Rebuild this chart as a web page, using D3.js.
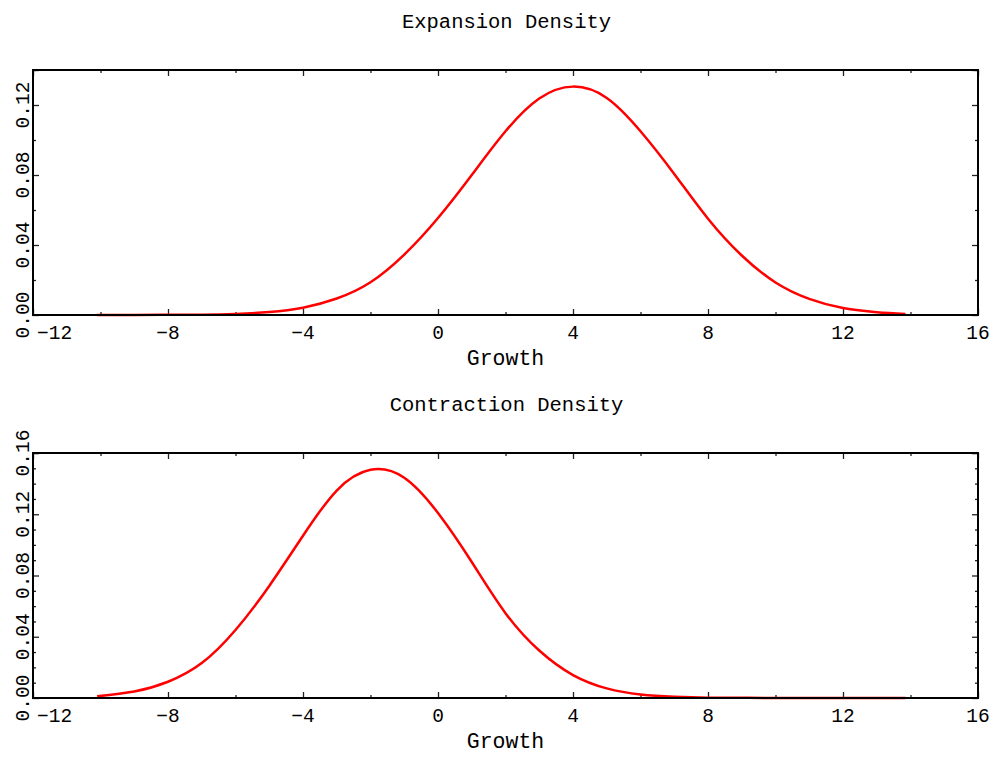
<!DOCTYPE html>
<html>
<head>
<meta charset="utf-8">
<script src="https://cdn.jsdelivr.net/npm/d3@7"></script>
<style>
  body { margin: 0; background: #fff; }
  text { font-family: "Liberation Mono", "DejaVu Sans Mono", monospace; fill: #000; }
</style>
</head>
<body>
<div id="chart"></div>
<script>
//////////////////////////////////////
// Data
//////////////////////////////////////

const growth = [-10.1, -9, -8, -7, -6, -5, -4, -3, -2, -1, 0, 1, 2, 3, 4, 5, 6, 7, 8, 9, 10, 11, 12, 13, 13.85];

const expansion = [0.0000, 0.0000, 0.0001, 0.0002, 0.0006, 0.0017, 0.0042, 0.0094, 0.0187, 0.0345,
  0.0554, 0.0800, 0.1050, 0.1237, 0.1305, 0.1240, 0.1050, 0.0806, 0.0550, 0.0340,
  0.0186, 0.0092, 0.0040, 0.0016, 0.0006];

const contraction = [0.0012, 0.0042, 0.0106, 0.0228, 0.0444, 0.0732, 0.1060, 0.1355, 0.1490, 0.1438,
  0.1208, 0.0888, 0.0554, 0.0310, 0.0150, 0.0063, 0.0023, 0.0008, 0.0002, 0.0001,
  0, 0, 0, 0, 0];

const x_major = [-12, -8, -4, 0, 4, 8, 12, 16];
const x_minor = [-10, -6, -2, 2, 6, 10, 14];

const exp_major = [0.00, 0.04, 0.08, 0.12];
const exp_minor = [0.02, 0.06, 0.10, 0.14];
const con_major = [0.00, 0.04, 0.08, 0.12, 0.16];
const con_minor = [0.01, 0.02, 0.03, 0.05, 0.06, 0.07, 0.09, 0.10, 0.11, 0.13, 0.14, 0.15];

//////////////////////////////////////
// Canvas
//////////////////////////////////////

const WIDTH = 997;
const HEIGHT = 758;
const LEFT = 33;
const RIGHT = 978;

const svg = d3.select('#chart').append('svg')
  .attr('width', WIDTH)
  .attr('height', HEIGHT);

function fmt_x (v) {
  return (v < 0 ? '\u2212' : '') + Math.abs(v);
}

function ticks (g, axis, vals, size) {
  g.call(axis.tickValues(vals).tickSize(size).tickFormat(''));
  g.select('.domain').remove();
  g.selectAll('.tick line').attr('stroke', '#222').attr('stroke-width', 1.3);
}

function panel (top, bottom, ymax, ymajor, yminor, values, title) {
  let x = d3.scaleLinear().domain([-12, 16]).range([LEFT, RIGHT]);
  let y = d3.scaleLinear().domain([0, ymax]).range([bottom, top]);
  let g = svg.append('g');

  // ticks on all four sides, pointing in
  ticks(g.append('g').attr('transform', 'translate(0,' + bottom + ')'), d3.axisBottom(x), x_major, -6);
  ticks(g.append('g').attr('transform', 'translate(0,' + bottom + ')'), d3.axisBottom(x), x_minor, -3);
  ticks(g.append('g').attr('transform', 'translate(0,' + top + ')'), d3.axisTop(x), x_major, -6);
  ticks(g.append('g').attr('transform', 'translate(0,' + top + ')'), d3.axisTop(x), x_minor, -3);
  ticks(g.append('g').attr('transform', 'translate(' + LEFT + ',0)'), d3.axisLeft(y), ymajor.concat([ymax]), -6);
  ticks(g.append('g').attr('transform', 'translate(' + LEFT + ',0)'), d3.axisLeft(y), yminor, -3);
  ticks(g.append('g').attr('transform', 'translate(' + RIGHT + ',0)'), d3.axisRight(y), ymajor.concat([ymax]), -6);
  ticks(g.append('g').attr('transform', 'translate(' + RIGHT + ',0)'), d3.axisRight(y), yminor, -3);

  // density curve
  let line = d3.line()
    .x((d, i) => x(growth[i]))
    .y(d => y(d))
    .curve(d3.curveNatural);
  g.append('path')
    .datum(values)
    .attr('d', line)
    .attr('fill', 'none')
    .attr('stroke', '#ff0000')
    .attr('stroke-width', 2.5);

  // frame
  g.append('rect')
    .attr('x', LEFT)
    .attr('y', top)
    .attr('width', RIGHT - LEFT)
    .attr('height', bottom - top)
    .attr('fill', 'none')
    .attr('stroke', '#000')
    .attr('stroke-width', 2);

  // x labels (the first one sits right of its tick, clear of the y label)
  x_major.forEach((v, i) => {
    g.append('text')
      .attr('x', i == 0 ? x(v) + 4 : x(v))
      .attr('y', bottom + 24)
      .attr('font-size', 19.5)
      .style('text-anchor', i == 0 ? 'start' : 'middle')
      .text(fmt_x(v));
  });

  // y labels, rotated
  ymajor.forEach(v => {
    g.append('text')
      .attr('font-size', 19.5)
      .style('text-anchor', 'middle')
      .attr('transform', 'translate(28.5,' + y(v) + ')rotate(-90)')
      .text(v.toFixed(2));
  });

  g.append('text')
    .attr('x', (LEFT + RIGHT) / 2)
    .attr('y', bottom + 50)
    .attr('font-size', 21.5)
    .style('text-anchor', 'middle')
    .text('Growth');

  g.append('text')
    .attr('x', (LEFT + RIGHT) / 2 + 1)
    .attr('y', top - 42)
    .attr('font-size', 20.5)
    .style('text-anchor', 'middle')
    .text(title);
}

panel(70, 315, 0.14, exp_major, exp_minor, expansion, 'Expansion Density');
panel(453, 698, 0.16, con_major, con_minor, contraction, 'Contraction Density');
</script>
</body>
</html>
